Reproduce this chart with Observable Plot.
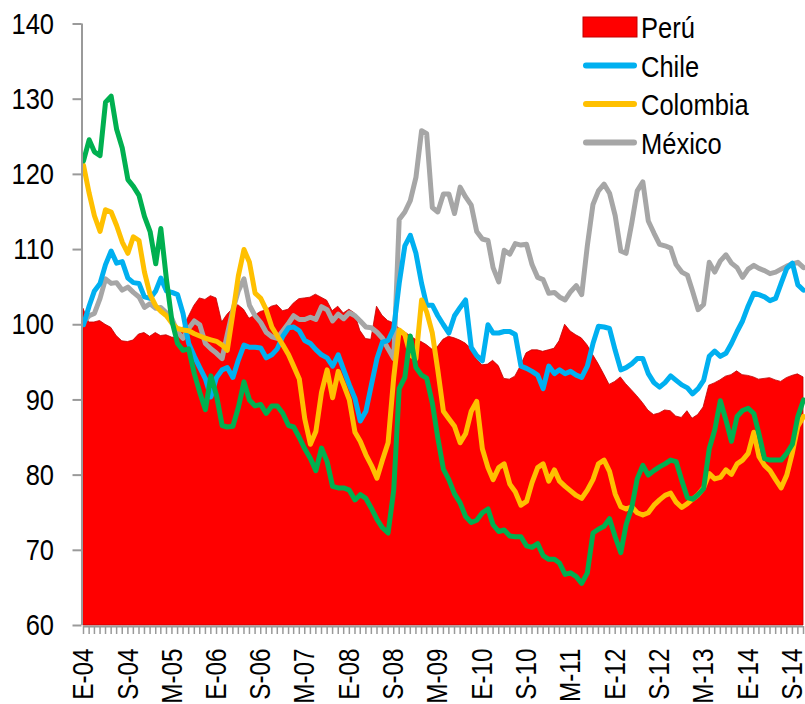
<!DOCTYPE html>
<html>
<head>
<meta charset="utf-8">
<script src="https://cdn.jsdelivr.net/npm/d3@7"></script>
<script src="https://cdn.jsdelivr.net/npm/@observablehq/plot@0.6"></script>
<style>
  html, body { margin: 0; padding: 0; background: #fff; }
  #wrap { position: relative; width: 805px; height: 704px; overflow: hidden; }
  #legend { position: absolute; left: 0; top: 0; }
  text { font-family: "Liberation Sans Narrow", "Arial Narrow", "Liberation Sans", sans-serif; }
</style>
</head>
<body>
<div id="wrap"></div>
<script>
// ---- Data (monthly, Jan 2004 – Nov 2014) ----
const startYear = 2004, startMonth = 0, nMonths = 131;

const peru = [102.1,100.3,100.3,100.5,100,99.6,98.5,97.8,97.7,97.9,98.7,98.9,98.4,98.9,98.5,98.6,98.3,98.2,99.5,101,
102.5,103.5,103.3,103.8,103.5,100.3,101.3,102.1,102.6,102,100.8,101.2,101.7,101.9,102.4,102.6,101.8,102,102.8,103.4,
103.5,103.6,104,103.6,103.2,101.8,102.4,101.5,102,101.5,99.2,98.1,98,102.4,101.2,100.5,100.2,99.5,99,98.5,
98,97.7,97.3,96.7,97,98,98.4,98.2,97.9,97.5,96.8,95.4,94.6,94.7,95.2,94.5,92.8,92.7,93.1,94.5,
96.2,96.6,96.6,96.4,96.6,96.8,97.8,100,99.1,98.6,98.2,97.3,96,94.8,93.4,92,92.4,93,92.1,91.3,
90.5,89.6,88.6,88,88.2,88.6,88.5,87.8,87.6,88.5,87.5,88,89,91.9,92.2,92.6,93.1,93.3,93.8,93.3,
93.2,93,92.7,92.8,92.9,92.6,92.4,92.9,93.2,93.4,93];

const chile = [100,102.5,104.5,105.5,108,109.8,108.2,108.4,106.2,105.6,105.5,103.7,103.5,104.5,106.2,104.5,104.3,104,101.5,97.5,
95.8,94.3,92.8,90.4,93,94,94.3,93,95.3,97.3,97,97,96.9,95.6,96,96.8,98.5,99.6,99.7,99.2,
97.9,97.5,96.7,96,95.6,94.5,96,94,92,90.2,87.2,88.5,92,95.5,97.7,97.9,99.5,105.5,110.5,111.9,
109.5,105.5,102.6,102.6,101.2,100,98.9,101.2,102.3,103.3,97,95.9,95.2,100,98.9,98.9,99.1,99.1,98.7,94.5,
94.2,93.8,93.3,91.5,94.5,93.5,94,93.5,93.8,93.3,93,94.5,97.5,99.8,99.7,99.5,96.6,94,94.3,94.8,
95.5,95.5,93.5,92.3,91.7,92.3,93.2,92.6,92,91.6,90.8,91.5,92.6,95.8,96.5,95.8,96.2,97.5,99.1,100.5,
102.5,104.2,104,103.7,103.2,103.5,105.5,107.5,108.2,105.3,104.6];

const colombia = [121.2,117.5,114.5,112.4,115.3,115,113.2,111,109.5,111.7,111.2,107,104,102.5,101.8,101.2,100.2,99.5,99.3,99.2,
98.8,98.5,98.2,98,97.8,97.3,96.6,101.5,106.5,110,108.3,104.2,103.5,102,99.7,98.5,97.3,96,94.5,92.8,
87.5,84.1,85.8,91,94,90.3,93.8,92,90,85.7,84.5,82.7,81.3,79.6,82,84.3,93,99.3,98.7,96,
95.5,103.3,101.7,98.9,94,88.5,87.5,86.5,84.3,85.5,88.5,89.8,83.5,81,79.4,81,81.5,78.8,77.8,76,
76.5,79,81,81.5,79.2,80.7,79.2,78.5,77.9,77.3,76.9,78,79.4,81.5,82,80.5,77.5,75.8,75.5,75.8,
75,74.7,75,76,76.7,77.3,77.6,76.4,75.7,76.2,76.8,77.4,78.3,80.2,79.5,79.7,80.7,80.1,81.5,82,
82.9,85.7,82.5,81.3,80.6,79.4,78.3,80,83,86.5,87.8];

const mexico = [100.4,101.2,101.5,103.5,106.1,105.5,105.6,104.6,105,104.3,103.7,102.3,102.8,102.2,102.3,101.6,100.8,99,98.2,99.5,
100.5,100,97.5,96.8,96.2,95.5,98.7,102,104.5,106.1,102.6,101.2,100.3,99,98.4,98.2,99.2,100.2,101.2,100.7,
100.7,101,100.7,102.4,102,100.5,101.4,100.8,101.6,101.2,100.5,99.7,99.6,99,98.2,96.8,95.5,114,115,116.5,
119.6,125.8,125.4,115.6,115,117.4,117.4,114.8,118.3,117,115.9,112.4,111.4,111.2,107.6,105.7,109.9,109.4,110.8,110.6,
110.7,108,106.3,106,104.2,104.3,103.7,103.3,104.4,105.2,104,110.5,116,117.8,118.7,117.5,114.5,109.8,109.5,113.5,
117.8,119,113.8,112.2,110.7,110.5,110.2,108,107,106.6,104.5,102,102.7,108.3,107,108.5,109.3,108.2,107.6,106.3,
107.4,107.9,107.5,107.2,106.8,107,107.4,107.8,108.1,108.3,107.6];

// green series (not in legend)
const brasil = [121.8,124.6,123,122.5,129.6,130.4,126,123.5,119.3,118.4,117.2,114.4,112.4,108.1,112.8,106,100.5,97.5,96.6,96.8,
93.5,91,88.7,93.2,90.6,86.6,86.4,86.5,89,92.4,90,89.2,89.4,88.2,89.2,89.2,88.2,86.6,86.4,85,
83.5,82.2,80.6,83.6,81.8,78.5,78.3,78.3,78,76.7,77.4,76.9,75.6,74.1,73,72.3,78,91.5,93,98.5,
94.3,93.3,92.9,89.6,85,80.8,79.4,77.5,76.3,74.5,73.7,74,75,75.5,73.4,72.5,72.7,71.9,71.8,71.8,
70.6,70.4,70.9,69.3,68.8,68.8,68.3,66.8,67,66.5,65.6,67,72.3,72.8,73.2,74.2,71.8,69.7,73.4,75.7,
79.5,81.3,80,80.6,81.1,81.5,82,81.8,79.3,77,76.8,77.4,78.2,83.5,86,89.9,87.3,84.5,87.8,88.6,
88.9,88.2,85.5,82.2,82,82,82,82.9,84.1,87.8,90];

const yTicks = [60, 70, 80, 90, 100, 110, 120, 130, 140];
const xTickLabels = ["E-04","S-04","M-05","E-06","S-06","M-07","E-08","S-08","M-09","E-10","S-10","M-11","E-12","S-12","M-13","E-14","S-14"];
const labelEvery = 8;

const seriesNames = ["Perú", "Chile", "Colombia", "México"];
const seriesColors = ["#ff0000", "#00b0f0", "#ffc000", "#a6a6a6"];
const greenColor = "#00b050";

// ---- Build table ----
const months = d3.utcMonth.range(new Date(Date.UTC(startYear, startMonth, 1)),
                                 new Date(Date.UTC(startYear, startMonth + nMonths, 1)));
const table = months.map((date, i) => ({
  date, peru: peru[i], chile: chile[i], colombia: colombia[i], mexico: mexico[i], brasil: brasil[i]
}));
const labelDates = months.filter((d, i) => i % labelEvery === 0);
const labelMap = new Map(labelDates.map((d, i) => [+d, xTickLabels[i]]));

const FONT = "'Liberation Sans Narrow', 'Arial Narrow', 'Liberation Sans', sans-serif";
const axisColor = "#9a9a9a";
const lineW = 5;

const chart = Plot.plot({
  width: 805,
  height: 704,
  marginLeft: 83,
  marginRight: 2,
  marginTop: 23.5,
  marginBottom: 79,
  style: { fontFamily: FONT, fontSize: "30px", background: "white", overflow: "visible" },
  x: { type: "utc", domain: [months[0], months[months.length - 1]] },
  y: { domain: [yTicks[0], yTicks[yTicks.length - 1]] },
  marks: [
    Plot.areaY(table, { x: "date", y1: yTicks[0], y2: "peru", fill: seriesColors[0], stroke: "#c00000", strokeWidth: 0.8 }),
    Plot.lineY(table, { x: "date", y: "mexico", stroke: seriesColors[3], strokeWidth: lineW, strokeLinejoin: "round" }),
    Plot.lineY(table, { x: "date", y: "chile", stroke: seriesColors[1], strokeWidth: lineW, strokeLinejoin: "round" }),
    Plot.lineY(table, { x: "date", y: "colombia", stroke: seriesColors[2], strokeWidth: lineW, strokeLinejoin: "round" }),
    Plot.lineY(table, { x: "date", y: "brasil", stroke: greenColor, strokeWidth: lineW, strokeLinejoin: "round" }),
    // axis lines
    Plot.ruleX([months[0]], { stroke: axisColor, strokeWidth: 2, dx: -1.5 }),
    Plot.ruleY([yTicks[0]], { stroke: axisColor, strokeWidth: 2, dy: 1 }),
    // y axis
    Plot.axisY(yTicks, { tickSize: 9, tickPadding: 19, dx: -1.5, stroke: axisColor, strokeWidth: 2, fill: "black", fontSize: 30, tickFormat: d => String(d) }),
    // minor monthly ticks
    Plot.axisX(months, { tickSize: 8, stroke: axisColor, strokeWidth: 1.5, tickFormat: () => "", dy: 1 }),
    // rotated labels
    Plot.axisX(labelDates, { tickSize: 0, tickPadding: 23, tickRotate: -90, fill: "black", fontSize: 30, tickFormat: d => labelMap.get(+d) })
  ]
});

const wrap = document.getElementById("wrap");
wrap.appendChild(chart);

// ---- Legend overlay ----
const ns = "http://www.w3.org/2000/svg";
const leg = document.createElementNS(ns, "svg");
leg.setAttribute("id", "legend");
leg.setAttribute("width", 805);
leg.setAttribute("height", 704);
leg.style.pointerEvents = "none";
const lx = 583, ly = 27, step = 38.5, sw = 54;
seriesNames.forEach((name, i) => {
  const cy = ly + i * step;
  if (i === 0) {
    const r = document.createElementNS(ns, "rect");
    r.setAttribute("x", lx); r.setAttribute("y", cy - 10);
    r.setAttribute("width", sw); r.setAttribute("height", 20);
    r.setAttribute("fill", seriesColors[i]); r.setAttribute("stroke", "#c00000"); r.setAttribute("stroke-width", 1);
    leg.appendChild(r);
  } else {
    const l = document.createElementNS(ns, "line");
    l.setAttribute("x1", lx + 3); l.setAttribute("x2", lx + sw - 3);
    l.setAttribute("y1", cy); l.setAttribute("y2", cy);
    l.setAttribute("stroke", seriesColors[i]); l.setAttribute("stroke-width", 6);
    l.setAttribute("stroke-linecap", "round");
    leg.appendChild(l);
  }
  const t = document.createElementNS(ns, "text");
  t.setAttribute("x", lx + sw + 4);
  t.setAttribute("y", cy + 11);
  t.setAttribute("font-size", 30);
  t.setAttribute("fill", "black");
  t.textContent = name;
  leg.appendChild(t);
});
wrap.appendChild(leg);

// Narrow the text (Arial Narrow look) by compressing glyph advance
const xLabelNodes = new Set(document.querySelectorAll('#wrap g[aria-label="x-axis tick label"] text'));
document.querySelectorAll("#wrap text").forEach(t => {
  const w = t.getComputedTextLength();
  if (w > 0) {
    const squeeze = xLabelNodes.has(t) ? 0.81 : 0.85;
    t.setAttribute("textLength", (w * squeeze).toFixed(2));
    t.setAttribute("lengthAdjust", "spacingAndGlyphs");
  }
});
</script>
</body>
</html>
